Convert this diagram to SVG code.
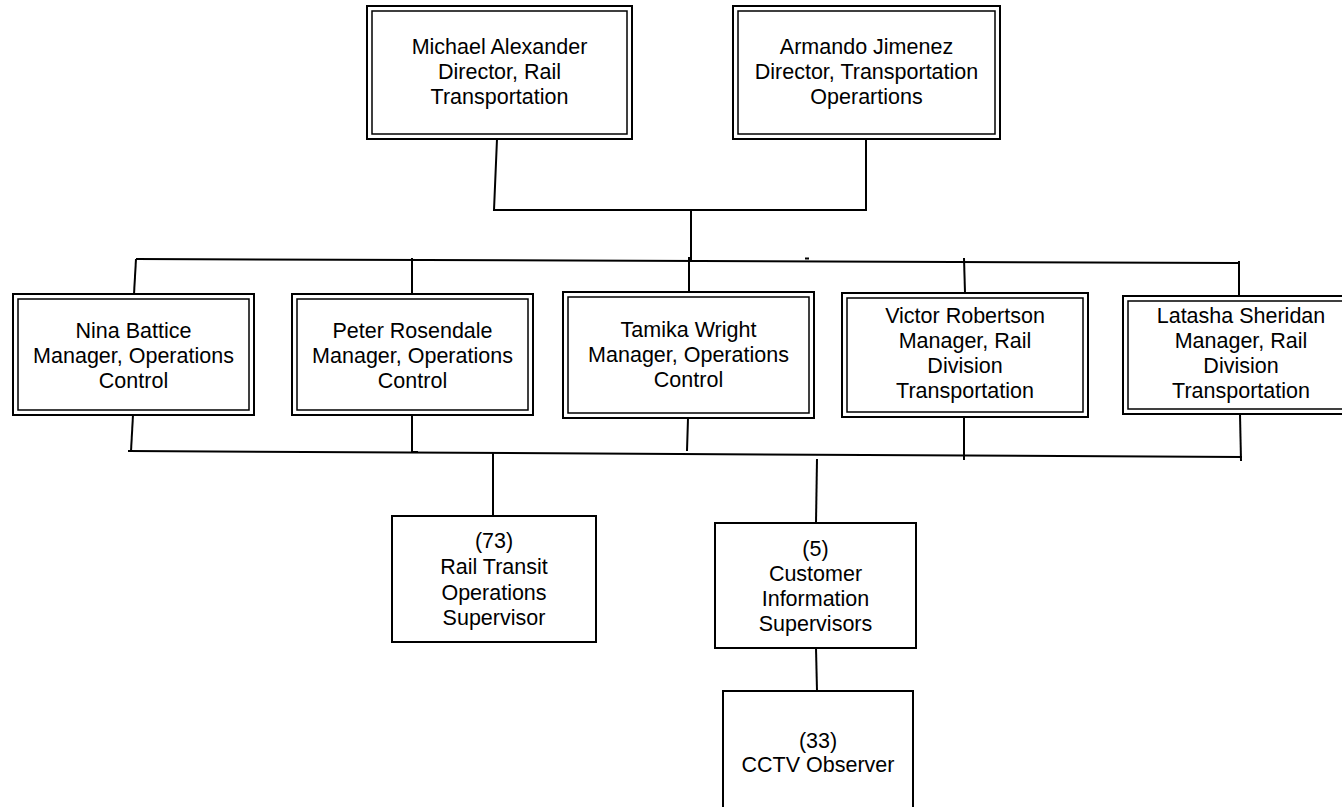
<svg xmlns="http://www.w3.org/2000/svg" width="1342" height="807" viewBox="0 0 1342 807">
<style>
.outer{fill:#fff;stroke:#000;stroke-width:2}
.inner{fill:none;stroke:#000;stroke-width:1.5}
.box{fill:#fff;stroke:#000;stroke-width:2}
.t{font-family:"Liberation Sans",Arial,sans-serif;font-size:21.5px;text-anchor:middle;fill:#000}
.c{stroke:#000;stroke-width:2;fill:none}
</style>
<rect x="0" y="0" width="1342" height="807" fill="#fff"/>
<g id="connectors">
<polyline class="c" points="497,139 494,210 866,210 866,139"/>
<line class="c" x1="691" y1="209" x2="691" y2="262"/>
<line class="c" x1="689" y1="257" x2="689" y2="292"/>
<line class="c" x1="136" y1="259" x2="1239" y2="263"/>
<line class="c" x1="805" y1="258.5" x2="809" y2="258.5"/>
<line class="c" x1="136" y1="259" x2="134" y2="294"/>
<line class="c" x1="412" y1="258" x2="412" y2="294"/>
<line class="c" x1="964" y1="258" x2="965" y2="293"/>
<line class="c" x1="1239" y1="261" x2="1239" y2="296"/>
<line class="c" x1="133" y1="415" x2="131" y2="451"/>
<polyline class="c" points="412,415 412,452 418,452"/>
<line class="c" x1="688" y1="418" x2="687" y2="451"/>
<line class="c" x1="964" y1="417" x2="964" y2="460"/>
<line class="c" x1="1240" y1="414" x2="1241" y2="461"/>
<line class="c" x1="128" y1="451" x2="1242" y2="457"/>
<line class="c" x1="493" y1="453" x2="493" y2="516"/>
<line class="c" x1="817" y1="459" x2="816" y2="523"/>
<line class="c" x1="816" y1="648" x2="817" y2="691"/>
</g>
<g id="michael">
<rect class="outer" x="367" y="6" width="265" height="133"/>
<rect class="inner" x="372" y="11" width="255" height="123"/>
<text class="t"><tspan x="499.5" y="54">Michael Alexander</tspan><tspan x="499.5" y="79">Director, Rail</tspan><tspan x="499.5" y="104">Transportation</tspan></text>
</g>
<g id="armando">
<rect class="outer" x="733" y="6" width="267" height="133"/>
<rect class="inner" x="738" y="11" width="257" height="123"/>
<text class="t"><tspan x="866.5" y="54">Armando Jimenez</tspan><tspan x="866.5" y="79">Director, Transportation</tspan><tspan x="866.5" y="104">Operartions</tspan></text>
</g>
<g id="nina">
<rect class="outer" x="13" y="294" width="241" height="121"/>
<rect class="inner" x="18" y="299" width="231" height="111"/>
<text class="t"><tspan x="133.5" y="338">Nina Battice</tspan><tspan x="133.5" y="363">Manager, Operations</tspan><tspan x="133.5" y="388">Control</tspan></text>
</g>
<g id="peter">
<rect class="outer" x="292" y="294" width="241" height="121"/>
<rect class="inner" x="297" y="299" width="231" height="111"/>
<text class="t"><tspan x="412.5" y="338">Peter Rosendale</tspan><tspan x="412.5" y="363">Manager, Operations</tspan><tspan x="412.5" y="388">Control</tspan></text>
</g>
<g id="tamika">
<rect class="outer" x="563" y="292" width="251" height="126"/>
<rect class="inner" x="568" y="297" width="241" height="116"/>
<text class="t"><tspan x="688.5" y="337">Tamika Wright</tspan><tspan x="688.5" y="362">Manager, Operations</tspan><tspan x="688.5" y="387">Control</tspan></text>
</g>
<g id="victor">
<rect class="outer" x="842" y="293" width="246" height="124"/>
<rect class="inner" x="847" y="298" width="236" height="114"/>
<text class="t"><tspan x="965" y="323">Victor Robertson</tspan><tspan x="965" y="348">Manager, Rail</tspan><tspan x="965" y="373">Division</tspan><tspan x="965" y="398">Transportation</tspan></text>
</g>
<g id="latasha">
<rect class="outer" x="1123" y="296" width="236" height="118"/>
<rect class="inner" x="1128" y="301" width="226" height="108"/>
<text class="t"><tspan x="1241" y="323">Latasha Sheridan</tspan><tspan x="1241" y="348">Manager, Rail</tspan><tspan x="1241" y="373">Division</tspan><tspan x="1241" y="398">Transportation</tspan></text>
</g>
<g id="rail-transit">
<rect class="box" x="392" y="516" width="204" height="126"/>
<text class="t"><tspan x="494" y="548">(73)</tspan><tspan x="494" y="574">Rail Transit</tspan><tspan x="494" y="599.5">Operations</tspan><tspan x="494" y="625">Supervisor</tspan></text>
</g>
<g id="customer-info">
<rect class="box" x="715" y="523" width="201" height="125"/>
<text class="t"><tspan x="815.5" y="556">(5)</tspan><tspan x="815.5" y="581">Customer</tspan><tspan x="815.5" y="606">Information</tspan><tspan x="815.5" y="631">Supervisors</tspan></text>
</g>
<g id="cctv">
<rect class="box" x="723" y="691" width="190" height="123"/>
<text class="t"><tspan x="818" y="747.5">(33)</tspan><tspan x="818" y="772">CCTV Observer</tspan></text>
</g>
</svg>
